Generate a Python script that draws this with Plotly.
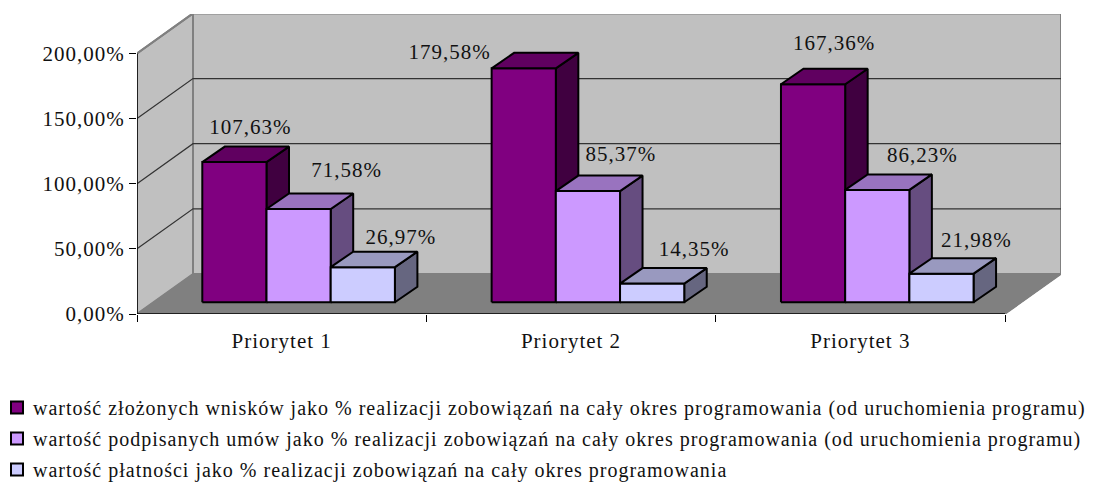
import plotly.graph_objects as go

# ---- data -------------------------------------------------------------
categories = ["Priorytet 1", "Priorytet 2", "Priorytet 3"]
series_names = [
    "wartość złożonych wnisków jako % realizacji zobowiązań na cały okres programowania (od uruchomienia programu)",
    "wartość podpisanych umów jako % realizacji zobowiązań na cały okres programowania (od uruchomienia programu)",
    "wartość płatności jako % realizacji zobowiązań na cały okres programowania",
]
zlozone = [107.63, 179.58, 167.36]
podpisane = [71.58, 85.37, 86.23]
platnosci = [26.97, 14.35, 21.98]
y_ticks = [0, 50, 100, 150, 200]
y_tick_labels = ["0,00%", "50,00%", "100,00%", "150,00%", "200,00%"]

# ---- style / geometry --------------------------------------------------
FONT = "Liberation Serif"
PX_X, PX_Y = 289.33, 1.303           # pixels per category, pixels per percent
face_colors = [
    ("#800080", "#600060", "#400040"),
    ("#CC99FF", "#9973BF", "#664D80"),
    ("#CCCCFF", "#9999BF", "#666680"),
]
FLOOR_DX, FLOOR_DY = 56 / PX_X, 40 / PX_Y
BAR_DX, BAR_DY = 22.5 / PX_X, 15.5 / PX_Y
BAR_W = 64.2 / PX_X
BAR_X0 = 65.3 / PX_X
BAR_Y0 = 11.7 / PX_Y
XMAX = 3 + FLOOR_DX
YMAX = 300 / PX_Y
# label offset from the middle of the bar's front top edge, in pixels
label_dx = [[16, -74, 21], [48, 33, 45], [38, 42, 35]]
label_dy = [[33, 15, 39], [37, 35, 33], [28, 33, 32]]

fig = go.Figure()


def poly(xs, ys, fill, line, width):
    fig.add_trace(go.Scatter(
        x=xs, y=ys, mode="lines", fill="toself", fillcolor=fill,
        line=dict(color=line, width=width), showlegend=False, hoverinfo="skip", cliponaxis=False))


def path(xs, ys, color, width):
    fig.add_trace(go.Scatter(
        x=xs, y=ys, mode="lines", line=dict(color=color, width=width),
        showlegend=False, hoverinfo="skip", cliponaxis=False))


# walls and floor
WALL_EDGE = "#808080"
poly([0, FLOOR_DX, FLOOR_DX, 0, 0], [0, FLOOR_DY, 200 + FLOOR_DY, 200, 0], "#C0C0C0", WALL_EDGE, 2)
poly([FLOOR_DX, XMAX, XMAX, FLOOR_DX, FLOOR_DX],
     [FLOOR_DY, FLOOR_DY, 200 + FLOOR_DY, 200 + FLOOR_DY, FLOOR_DY], "#C0C0C0", WALL_EDGE, 2)
poly([0, 3, XMAX, FLOOR_DX, 0], [0, 0, FLOOR_DY, FLOOR_DY, 0], "#808080", "#808080", 1)

# gridlines
gx, gy = [], []
for v in y_ticks[1:-1]:
    gx += [0, FLOOR_DX, XMAX, None]
    gy += [v, v + FLOOR_DY, v + FLOOR_DY, None]
path(gx, gy, "#333333", 1.2)
path([0, FLOOR_DX], [200, 200 + FLOOR_DY], WALL_EDGE, 2)
path([3, XMAX], [0, FLOOR_DY], WALL_EDGE, 1.5)

# axis lines
path([0, 0], [0, 200], "#000000", 1.5)
path([0, 3], [0, 0], "#000000", 1.5)

# bars: painted left to right so the next bar hides the side of the previous
all_values = [zlozone, podpisane, platnosci]
for s, values in enumerate(all_values):
    front, top, side = face_colors[s]
    fx, fy, tx, ty, sx, sy = [], [], [], [], [], []
    for c, v in enumerate(values):
        x0 = c + BAR_X0 + s * BAR_W
        x1 = x0 + BAR_W
        y0 = BAR_Y0
        y1 = BAR_Y0 + v
        fx += [x0, x1, x1, x0, x0, None]
        fy += [y0, y0, y1, y1, y0, None]
        tx += [x0, x1, x1 + BAR_DX, x0 + BAR_DX, x0, None]
        ty += [y1, y1, y1 + BAR_DY, y1 + BAR_DY, y1, None]
        sx += [x1, x1 + BAR_DX, x1 + BAR_DX, x1, x1, None]
        sy += [y0, y0 + BAR_DY, y1 + BAR_DY, y1, y0, None]
    poly(sx, sy, side, "#000000", 2)
    poly(fx, fy, front, "#000000", 2)
    poly(tx, ty, top, "#000000", 2)

# value labels
lx, ly, lt = [], [], []
for s, values in enumerate(all_values):
    for c, v in enumerate(values):
        lx.append(c + BAR_X0 + (s + 0.5) * BAR_W + label_dx[s][c] / PX_X)
        ly.append(BAR_Y0 + v + label_dy[s][c] / PX_Y)
        lt.append(f"{v:.2f}%".replace(".", ","))
fig.add_trace(go.Scatter(
    x=lx, y=ly, text=lt, mode="text", textposition="middle center",
    textfont=dict(family=FONT, size=21, color="#111111"),
    showlegend=False, hoverinfo="skip", cliponaxis=False))

# legend entries
for s, name in enumerate(series_names):
    fig.add_trace(go.Scatter(
        x=[None], y=[None], mode="markers", name=name, legendgroup=f"s{s}",
        marker=dict(symbol="square", size=12, color=face_colors[s][0],
                    line=dict(color="#000000", width=2))))

fig.update_layout(
    width=1095, height=474,
    margin=dict(l=129, r=42, t=6, b=168, pad=0, autoexpand=False),
    paper_bgcolor="#FFFFFF", plot_bgcolor="#FFFFFF",
    font=dict(family=FONT, size=21, color="#111111"),
    xaxis=dict(
        range=[0, XMAX], showgrid=False, zeroline=False, showline=False,
        tickmode="array", tickvals=[0.5, 1.5, 2.5], ticktext=categories,
        ticks="", ticklabelstandoff=12, tickfont=dict(family=FONT, size=21, color="#111111"),
        minor=dict(tickmode="array", tickvals=[0, 1, 2, 3], ticks="outside", ticklen=7,
                   tickwidth=1, tickcolor="#000000"),
    ),
    yaxis=dict(
        range=[0, YMAX], showgrid=False, zeroline=False, showline=False,
        tickmode="array", tickvals=y_ticks, ticktext=y_tick_labels,
        ticks="outside", ticklen=7, tickwidth=1, tickcolor="#000000",
        tickfont=dict(family=FONT, size=21, color="#111111"),
    ),
    legend=dict(
        x=0, y=0, xref="container", yref="container", xanchor="left", yanchor="bottom",
        orientation="v", traceorder="grouped", tracegroupgap=2,
        bgcolor="rgba(0,0,0,0)", font=dict(family=FONT, size=20, color="#111111"),
        itemclick=False, itemdoubleclick=False,
    ),
    showlegend=True,
)

# the reference's text is spaced out a little; plotly.js has no letter-spacing option,
# and the legend box is measured before the spacing applies, so its clip is lifted
spacing = """
var st = document.createElement('style');
st.textContent = '.main-svg text{letter-spacing:1px}'
  + '.legend .scrollbox{clip-path:none !important;transform:translate(-15px,7px)}'
  + '.legend .legendpoints{transform:translate(4px,0)}';
document.head.appendChild(st);
"""
fig.write_html("out.html", config=dict(displayModeBar=False), post_script=spacing)
